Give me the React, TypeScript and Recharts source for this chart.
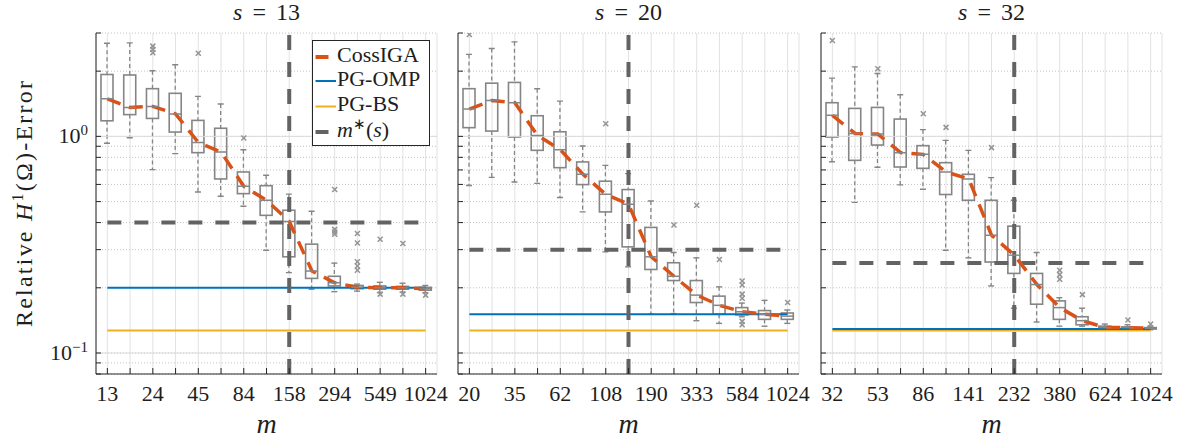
import React from "react";
import {
    ComposedChart,
    XAxis,
    YAxis,
    Bar,
    Line,
    CartesianGrid,
    ReferenceLine,
} from "recharts";

// ---- s = 13 ----
const m13 = [13, 18, 24, 33, 45, 61, 84, 115, 158, 215, 294, 402, 549, 750, 1024];
const hi13 = [2.69, 2.7, 2.01, 2.14, 1.53, 1.41, 0.868, 0.661, 0.541, 0.451, 0.26, 0.208, 0.212, 0.21, 0.205];
const q3_13 = [1.93, 1.92, 1.66, 1.58, 1.185, 1.09, 0.685, 0.592, 0.456, 0.318, 0.226, 0.205, 0.204, 0.203, 0.201];
const med13 = [1.49, 1.36, 1.375, 1.27, 0.938, 0.847, 0.588, 0.507, 0.405, 0.239, 0.211, 0.201, 0.2, 0.2, 0.198];
const q1_13 = [1.18, 1.26, 1.21, 1.047, 0.841, 0.636, 0.544, 0.432, 0.278, 0.221, 0.204, 0.198, 0.197, 0.197, 0.195];
const lo13 = [0.93, 0.986, 0.702, 0.832, 0.554, 0.529, 0.476, 0.298, 0.235, 0.197, 0.192, 0.193, 0.19, 0.191, 0.19];
const out13 = [[], [], [2.61, 2.52, 2.43], [], [2.42], [], [0.982], [], [], [], [0.568, 0.372, 0.362, 0.353],
    [0.356, 0.322, 0.264, 0.252, 0.241], [0.335, 0.187], [0.32, 0.187], [0.185]];
const mStar13 = 158;
const level13 = 0.4;
const pgOmp13 = 0.2;
const pgBs13 = 0.127;

// ---- s = 20 ----
const m20 = [20, 26, 35, 47, 62, 82, 108, 143, 190, 252, 333, 441, 584, 774, 1024];
const hi20 = [2.39, 2.545, 2.73, 1.66, 1.455, 0.903, 0.735, 0.673, 0.503, 0.291, 0.275, 0.202, 0.17, 0.175, 0.158];
const q3_20 = [1.66, 1.76, 1.774, 1.245, 1.05, 0.762, 0.621, 0.568, 0.38, 0.261, 0.216, 0.183, 0.162, 0.157, 0.153];
const med20 = [1.336, 1.465, 1.43, 1.01, 0.868, 0.668, 0.54, 0.486, 0.278, 0.226, 0.185, 0.166, 0.155, 0.151, 0.148];
const q1_20 = [1.097, 1.058, 0.993, 0.862, 0.717, 0.599, 0.448, 0.309, 0.243, 0.216, 0.171, 0.151, 0.15, 0.143, 0.143];
const lo20 = [0.593, 0.647, 0.616, 0.607, 0.522, 0.448, 0.293, 0.25, 0.151, 0.152, 0.141, 0.137, 0.147, 0.133, 0.137];
const out20 = [[2.95], [], [], [], [], [], [1.144], [], [], [0.39], [0.481], [0.27],
    [0.215, 0.206, 0.187, 0.179, 0.14, 0.135], [], [0.171]];
const mStar20 = 143;
const level20 = 0.3;
const pgOmp20 = 0.151;
const pgBs20 = 0.127;

// ---- s = 32 ----
const m32 = [32, 41, 53, 67, 86, 110, 141, 181, 232, 297, 380, 487, 624, 800, 1024];
const hi32 = [1.857, 2.094, 1.95, 1.556, 1.074, 0.958, 0.862, 0.645, 0.507, 0.291, 0.18, 0.161, 0.136, 0.135, 0.133];
const q3_32 = [1.43, 1.346, 1.36, 1.202, 0.906, 0.756, 0.668, 0.507, 0.385, 0.233, 0.174, 0.147, 0.133, 0.132, 0.131];
const med32 = [1.25, 1.032, 1.025, 0.841, 0.826, 0.685, 0.636, 0.35, 0.283, 0.207, 0.162, 0.141, 0.131, 0.131, 0.13];
const q1_32 = [0.993, 0.775, 0.912, 0.722, 0.712, 0.539, 0.507, 0.263, 0.233, 0.168, 0.143, 0.135, 0.13, 0.1295, 0.129];
const lo32 = [0.764, 0.496, 0.72, 0.597, 0.57, 0.298, 0.275, 0.204, 0.161, 0.139, 0.133, 0.133, 0.129, 0.128, 0.128];
const out32 = [[2.77], [], [2.05], [], [1.272], [1.1], [], [0.887], [], [], [0.241, 0.23, 0.219], [0.186],
    [], [0.142], [0.136]];
const mStar32 = 232;
const level32 = 0.26;
const pgOmp32 = 0.129;
const pgBs32 = 0.127;

const yTicks = [0.08, 0.09, 0.1, 0.2, 0.3, 0.4, 0.5, 0.6, 0.7, 0.8, 0.9, 1, 2, 3];

const FONT = "'Liberation Serif', 'Times New Roman', serif";
const AXIS = "#262626";
const TEXT = "#1e1e1e";
const BOX = "#858585";
const OUT = "#949494";
const ORANGE = "#D95319";
const BLUE = "#0072BD";
const YELLOW = "#EDB120";
const DARK = "#636363";
const BOX_W = 12;
const MAX_OUT = 6;

const UpperWhisker = (p: any) => {
    const cx = p.x + p.width / 2;
    const top = Math.min(p.y, p.y + p.height);
    const bot = Math.max(p.y, p.y + p.height);
    return (
        <g>
            <line x1={cx} x2={cx} y1={top} y2={bot} stroke={BOX} strokeWidth={1.3} strokeDasharray="4 3" />
            <line x1={cx - 3} x2={cx + 3} y1={top} y2={top} stroke={BOX} strokeWidth={1.4} />
        </g>
    );
};

const LowerWhisker = (p: any) => {
    const cx = p.x + p.width / 2;
    const top = Math.min(p.y, p.y + p.height);
    const bot = Math.max(p.y, p.y + p.height);
    return (
        <g>
            <line x1={cx} x2={cx} y1={top} y2={bot} stroke={BOX} strokeWidth={1.3} strokeDasharray="4 3" />
            <line x1={cx - 3} x2={cx + 3} y1={bot} y2={bot} stroke={BOX} strokeWidth={1.4} />
        </g>
    );
};

const BoxShape = (p: any) => {
    const top = Math.min(p.y, p.y + p.height);
    return <rect x={p.x} y={top} width={p.width} height={Math.abs(p.height)} fill="none" stroke={BOX} strokeWidth={1.6} />;
};

const MedianDot = (p: any) => {
    if (p.cy == null || isNaN(p.cy)) return <g key={`md${p.index}`} />;
    return <line key={`md${p.index}`} x1={p.cx - BOX_W / 2} x2={p.cx + BOX_W / 2} y1={p.cy} y2={p.cy} stroke={BOX} strokeWidth={1.5} />;
};

const OutlierDot = (p: any) => {
    if (p.cy == null || isNaN(p.cy)) return <g key={`od${p.index}`} />;
    const r = 2.5;
    return (
        <g key={`od${p.index}`}>
            <line x1={p.cx - r} x2={p.cx + r} y1={p.cy - r} y2={p.cy + r} stroke={OUT} strokeWidth={1.5} />
            <line x1={p.cx - r} x2={p.cx + r} y1={p.cy + r} y2={p.cy - r} stroke={OUT} strokeWidth={1.5} />
        </g>
    );
};

const BottomTick = (p: any) => (
    <g>
        <line x1={p.x} x2={p.x} y1={p.y} y2={p.y - 6} stroke={AXIS} strokeWidth={1} />
        {p.index % 2 === 0 && (
            <text x={p.x} y={p.y + 27} textAnchor="middle" fontFamily={FONT} fontSize={22} fill={TEXT}>
                {p.payload.value}
            </text>
        )}
    </g>
);

const TopTick = (p: any) => (
    <line x1={p.x} x2={p.x} y1={p.y} y2={p.y + 6} stroke={AXIS} strokeWidth={1} />
);

const RightTick = (p: any) => (
    <line x1={p.x} x2={p.x - 5} y1={p.y} y2={p.y} stroke={AXIS} strokeWidth={1} />
);

const makeLeftTick = (showLabels: boolean) => (p: any) => {
    const v = p.payload.value;
    const exp = v === 1 ? "0" : v === 0.1 ? "\u22121" : null;
    return (
        <g>
            <line x1={p.x} x2={p.x + 5} y1={p.y} y2={p.y} stroke={AXIS} strokeWidth={1} />
            {showLabels && exp && (
                <text x={p.x - 8} y={p.y + 7} textAnchor="end" fontFamily={FONT} fontSize={22} fill={TEXT}>
                    10<tspan dy={-8} fontSize={15}>{exp}</tspan>
                </text>
            )}
        </g>
    );
};

type PanelProps = {
    left: number;
    m: number[];
    hi: number[];
    q3: number[];
    med: number[];
    q1: number[];
    lo: number[];
    out: number[][];
    mStar: number;
    level: number;
    pgOmp: number;
    pgBs: number;
    showY: boolean;
};

const PLOT_W = 341;

const Panel = ({ left, m, hi, q3, med, q1, lo, out, mStar, level, pgOmp, pgBs, showY }: PanelProps) => {
    const rows = m.map((v, i) => {
        const row: any = { m: v, hi: hi[i], q3: q3[i], med: med[i], q1: q1[i], lo: lo[i], omp: pgOmp, bs: pgBs, lvl: level };
        for (let k = 0; k < MAX_OUT; k++) row[`o${k}`] = out[i][k] ?? null;
        return row;
    });
    return (
        <div style={{ position: "absolute", left: left - 60, top: 0 }}>
            <ComposedChart width={60 + PLOT_W + 20} height={438} data={rows} margin={{ top: 33, right: 20, bottom: 0, left: 0 }}>
                <CartesianGrid horizontal={false} stroke="#e2e2e2" />
                <CartesianGrid vertical={false} stroke="#c4c4c4" strokeDasharray="1 2" />
                <ReferenceLine y={1} stroke="#dcdcdc" strokeWidth={1} />
                <ReferenceLine y={0.1} stroke="#dcdcdc" strokeWidth={1} />
                <XAxis dataKey="m" scale="band" height={64} interval={0} tick={BottomTick} tickSize={0} tickMargin={0}
                    tickLine={false} axisLine={{ stroke: AXIS }} />
                <XAxis xAxisId="top" orientation="top" dataKey="m" scale="band" height={0} interval={0} tick={TopTick}
                    tickSize={0} tickMargin={0} tickLine={false} axisLine={{ stroke: AXIS }} />
                <XAxis xAxisId="wu" dataKey="m" scale="band" hide />
                <XAxis xAxisId="wl" dataKey="m" scale="band" hide />
                <YAxis scale="log" type="number" domain={[0.08, 3]} allowDataOverflow ticks={yTicks} interval={0}
                    width={60} tick={makeLeftTick(showY)} tickSize={0} tickMargin={0} tickLine={false}
                    axisLine={{ stroke: AXIS }} />
                <YAxis yAxisId="r" orientation="right" scale="log" type="number" domain={[0.08, 3]} allowDataOverflow
                    ticks={yTicks} interval={0} width={0} tick={RightTick} tickSize={0} tickMargin={0} tickLine={false}
                    axisLine={{ stroke: AXIS }} />

                <Line dataKey="bs" stroke={YELLOW} strokeWidth={2} dot={false} activeDot={false} isAnimationActive={false} />
                <Line dataKey="omp" stroke={BLUE} strokeWidth={2} dot={false} activeDot={false} isAnimationActive={false} />
                <Line dataKey="lvl" stroke={DARK} strokeWidth={4} strokeDasharray="14 13" dot={false} activeDot={false}
                    isAnimationActive={false} />

                <Bar xAxisId="wu" dataKey={(d: any) => [d.q3, d.hi]} barSize={BOX_W} shape={UpperWhisker} isAnimationActive={false} />
                <Bar xAxisId="wl" dataKey={(d: any) => [d.lo, d.q1]} barSize={BOX_W} shape={LowerWhisker} isAnimationActive={false} />
                <Bar dataKey={(d: any) => [d.q1, d.q3]} barSize={BOX_W} shape={BoxShape} isAnimationActive={false} />
                <Line dataKey="med" stroke="none" dot={MedianDot} activeDot={false} isAnimationActive={false} />
                {Array.from({ length: MAX_OUT }, (_, k) => (
                    <Line key={k} dataKey={`o${k}`} stroke="none" dot={OutlierDot} activeDot={false}
                        connectNulls={false} isAnimationActive={false} />
                ))}

                <ReferenceLine x={mStar} stroke={DARK} strokeWidth={4} strokeDasharray="15 12" />
                <Line dataKey="med" stroke={ORANGE} strokeWidth={3.5} strokeDasharray="14 9" dot={false}
                    activeDot={false} isAnimationActive={false} />
            </ComposedChart>
        </div>
    );
};

const panels = [
    { s: 13, left: 96, m: m13, hi: hi13, q3: q3_13, med: med13, q1: q1_13, lo: lo13, out: out13, mStar: mStar13, level: level13, pgOmp: pgOmp13, pgBs: pgBs13 },
    { s: 20, left: 458, m: m20, hi: hi20, q3: q3_20, med: med20, q1: q1_20, lo: lo20, out: out20, mStar: mStar20, level: level20, pgOmp: pgOmp20, pgBs: pgBs20 },
    { s: 32, left: 821, m: m32, hi: hi32, q3: q3_32, med: med32, q1: q1_32, lo: lo32, out: out32, mStar: mStar32, level: level32, pgOmp: pgOmp32, pgBs: pgBs32 },
];

const App = () => {
    return (
        <div style={{ position: "absolute", left: 0, top: 0, width: 1181, height: 438, background: "#fff", overflow: "hidden" }}>
            {panels.map((p, i) => (
                <Panel key={p.s} {...p} showY={i === 0} />
            ))}
            <svg width={1181} height={438} style={{ position: "absolute", left: 0, top: 0, pointerEvents: "none" }}
                fontFamily={FONT} fill={TEXT}>
                {panels.map((p) => {
                    const cx = p.left + PLOT_W / 2;
                    return (
                        <g key={p.s}>
                            <text x={cx} y={20} textAnchor="middle" fontSize={24}>
                                <tspan fontStyle="italic">s</tspan>
                                <tspan dx={10}>=</tspan>
                                <tspan dx={10}>{p.s}</tspan>
                            </text>
                            <text x={cx} y={433} textAnchor="middle" fontSize={28} fontStyle="italic">m</text>
                        </g>
                    );
                })}
                <text transform="rotate(-90 32 204)" x={32} y={204} textAnchor="middle" fontSize={24}
                    textLength={246} lengthAdjust="spacing">
                    {"Relative "}
                    <tspan fontStyle="italic">H</tspan>
                    <tspan dy={-9} fontSize={16}>1</tspan>
                    <tspan dy={9}>(Ω)-Error</tspan>
                </text>

                <rect x={312.5} y={40.5} width={117} height={105} fill="#fff" stroke={AXIS} strokeWidth={1} />
                <line x1={315.5} x2={328.5} y1={57} y2={57} stroke={ORANGE} strokeWidth={4} />
                <text x={337} y={62} fontSize={22}>CossIGA</text>
                <line x1={315.5} x2={336} y1={81} y2={81} stroke={BLUE} strokeWidth={2} />
                <text x={337} y={86} fontSize={22}>PG-OMP</text>
                <line x1={315.5} x2={336} y1={106.5} y2={106.5} stroke={YELLOW} strokeWidth={2} />
                <text x={337} y={111} fontSize={22}>PG-BS</text>
                <line x1={315.5} x2={328.5} y1={132} y2={132} stroke={DARK} strokeWidth={4} />
                <text x={337} y={137} fontSize={22}>
                    <tspan fontStyle="italic">m</tspan>
                    <tspan dy={-8} fontSize={15}>{"\u2217"}</tspan>
                    <tspan dy={8}>(</tspan>
                    <tspan fontStyle="italic">s</tspan>
                    <tspan>)</tspan>
                </text>
            </svg>
        </div>
    );
};

export default App;
